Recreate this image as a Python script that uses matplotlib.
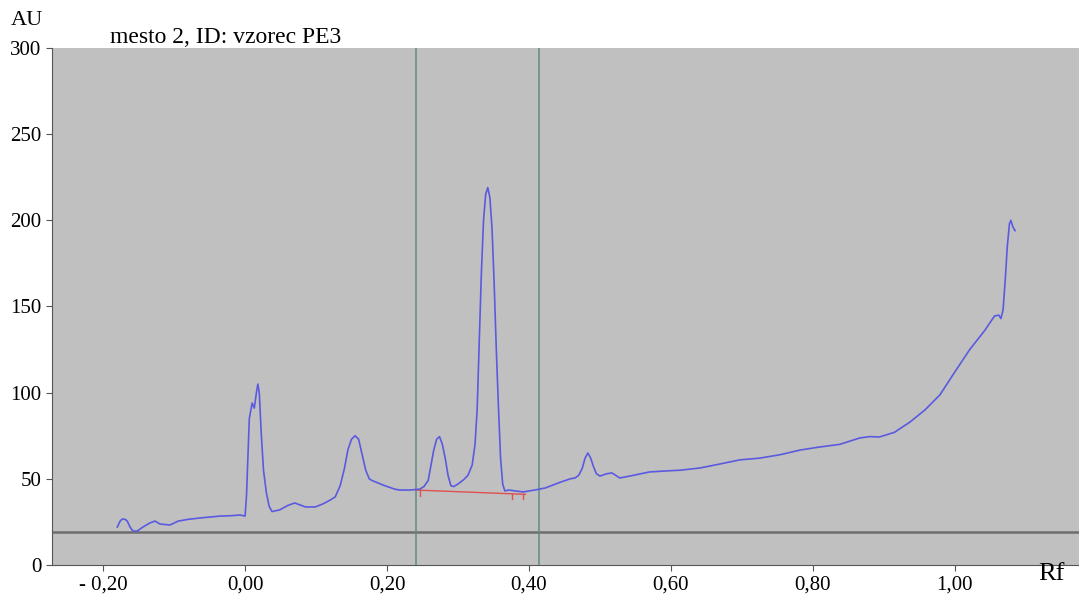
import matplotlib
matplotlib.use("Agg")
import matplotlib.pyplot as plt

# densitogram trace (Rf, AU)
rf = [-0.180, -0.176, -0.173, -0.169, -0.166, -0.162, -0.158, -0.152, -0.144, -0.134,
      -0.127, -0.120, -0.106, -0.094, -0.080, -0.063, -0.050, -0.035, -0.020, -0.007,
      0.000, 0.002, 0.006, 0.010, 0.013, 0.016, 0.018, 0.020, 0.023, 0.026,
      0.030, 0.034, 0.038, 0.049, 0.060, 0.070, 0.085, 0.099, 0.110, 0.120,
      0.127, 0.134, 0.140, 0.145, 0.150, 0.155, 0.160, 0.165, 0.170, 0.175,
      0.179, 0.197, 0.211, 0.218, 0.232, 0.246, 0.252, 0.258, 0.262, 0.266,
      0.270, 0.274, 0.278, 0.282, 0.286, 0.290, 0.294, 0.300, 0.308, 0.314,
      0.320, 0.324, 0.327, 0.330, 0.333, 0.336, 0.339, 0.342, 0.345, 0.348,
      0.351, 0.354, 0.357, 0.360, 0.363, 0.366, 0.372, 0.380, 0.392, 0.408,
      0.423, 0.444, 0.458, 0.465, 0.470, 0.475, 0.479, 0.483, 0.487, 0.491,
      0.495, 0.500, 0.510, 0.517, 0.528, 0.542, 0.570, 0.590, 0.613, 0.641,
      0.669, 0.697, 0.725, 0.754, 0.782, 0.810, 0.838, 0.866, 0.880, 0.894,
      0.915, 0.937, 0.958, 0.979, 1.000, 1.021, 1.042, 1.056, 1.062, 1.065,
      1.068, 1.071, 1.074, 1.077, 1.079, 1.082, 1.085]
au = [22.0, 25.5, 26.7, 26.5, 25.5, 22.0, 19.7, 19.7, 22.0, 24.4,
      25.5, 23.8, 23.2, 25.5, 26.5, 27.3, 27.8, 28.4, 28.6, 29.0,
      28.4, 40.0, 85.0, 94.0, 91.0, 100.0, 105.0, 100.0, 75.0, 55.0,
      42.0, 34.0, 31.0, 32.0, 34.5, 36.0, 33.7, 33.7, 35.5, 37.7,
      39.5, 46.0, 56.0, 67.0, 73.0, 75.0, 73.0, 64.0, 55.0, 50.0,
      49.0, 46.0, 44.0, 43.5, 43.5, 44.0, 45.5, 49.0, 58.0, 67.0,
      73.0, 74.5, 70.0, 62.0, 52.0, 46.0, 45.5, 47.0, 49.5, 52.0,
      58.0, 70.0, 90.0, 130.0, 170.0, 200.0, 215.0, 219.0, 213.0, 195.0,
      163.0, 125.0, 92.0, 62.0, 47.0, 43.0, 43.5, 43.0, 42.4, 43.5,
      44.7, 48.0, 50.0, 50.5, 52.0, 56.0, 62.0, 65.0, 62.0, 57.0,
      53.0, 51.6, 53.0, 53.4, 50.5, 51.6, 54.0, 54.5, 55.0, 56.3,
      58.6, 61.0, 62.0, 64.0, 66.7, 68.5, 70.0, 73.7, 74.5, 74.3,
      77.0, 83.0, 90.0, 98.7, 112.0, 125.0, 136.0, 144.5, 145.0, 143.0,
      148.0, 165.0, 185.0, 198.0, 200.0, 196.0, 194.0]

# integration baseline and marks
base_rf = [0.240, 0.395]
base_au = [43.5, 41.0]
mark_rf = [0.246, 0.376, 0.392]
mark_au = [43.3, 41.4, 41.1]

window = [0.241, 0.414]
threshold = 19

xticks = [-0.2, 0.0, 0.2, 0.4, 0.6, 0.8, 1.0]
xlabels = ["- 0,20", "0,00", "0,20", "0,40", "0,60", "0,80", "1,00"]
yticks = [0, 50, 100, 150, 200, 250, 300]

plt.rcParams['font.family'] = ['Liberation Serif', 'DejaVu Serif']

fig = plt.figure(figsize=(10.79, 5.97), dpi=100)
ax = fig.add_axes([0.0482, 0.0536, 0.9518, 0.866])
ax.set_facecolor("#c0c0c0")

ax.axhline(threshold, color="#6e6e6e", lw=1.8)
for w in window:
    ax.axvline(w, color="#5f8c86", lw=1.1)

ax.plot(base_rf, base_au, color="#e05050", lw=1.0)
for mx, my in zip(mark_rf, mark_au):
    ax.plot([mx, mx], [my, my - 3], color="#e05050", lw=1.0)

ax.plot(rf, au, color="#5a5ae0", lw=1.2)

ax.set_xlim(-0.272, 1.175)
ax.set_ylim(0, 300)
ax.set_xticks(xticks)
ax.set_xticklabels(xlabels)
ax.set_yticks(yticks)
ax.tick_params(labelsize=15, color="#555555", length=4)
for s in ["top", "right"]:
    ax.spines[s].set_visible(False)
for s in ["left", "bottom"]:
    ax.spines[s].set_color("#555555")

fig.text(0.01, 0.965, "AU", fontsize=16, va="center")
fig.text(0.102, 0.938, "mesto 2, ID: vzorec PE3", fontsize=17, va="center")
fig.text(0.962, 0.02, "Rf", fontsize=19, va="bottom")

fig.savefig("out.png", dpi=100)
